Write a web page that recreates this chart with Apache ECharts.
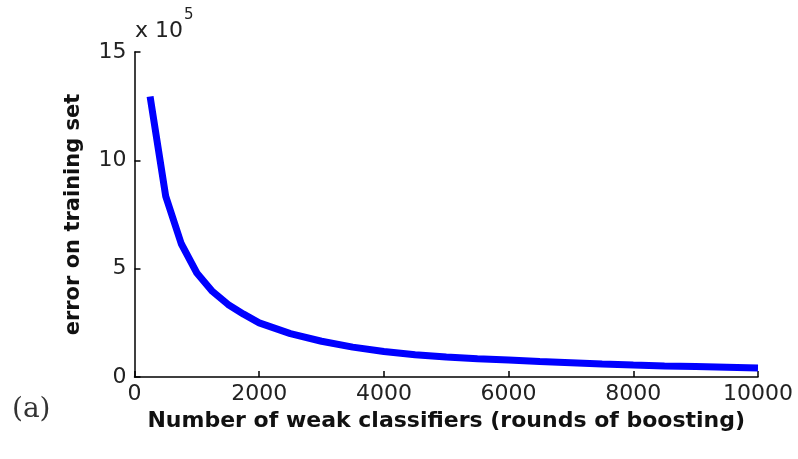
<!DOCTYPE html>
<html>
<head>
<meta charset="utf-8">
<script src="https://cdn.jsdelivr.net/npm/echarts@6/dist/echarts.min.js"></script>
<style>
  html, body { margin: 0; padding: 0; background: #fff; }
  #main { width: 798px; height: 459px; }
</style>
</head>
<body>
<div id="main"></div>
<script>
// number of boosting rounds
const rounds = [250, 500, 750, 1000, 1250, 1500, 1750, 2000, 2500, 3000, 3500, 4000,
  4500, 5000, 5500, 6000, 6500, 7000, 7500, 8000, 8500, 9000, 9500, 10000];
// training error, in units of 10^5
const trainError = [12.95, 8.35, 6.15, 4.8, 3.95, 3.35, 2.9, 2.5, 2.0, 1.65, 1.38, 1.18,
  1.03, 0.92, 0.84, 0.78, 0.71, 0.66, 0.6, 0.55, 0.51, 0.48, 0.45, 0.42];
const scale = 1e5;

const font = 'DejaVu Sans, Liberation Sans, Arial, sans-serif';

const chart = echarts.init(document.getElementById('main'));

chart.setOption({
  animation: false,
  backgroundColor: '#fff',
  grid: {left: 134.5, right: 40, top: 52, bottom: 82},
  xAxis: {
    type: 'value',
    min: 0,
    max: 10000,
    interval: 2000,
    name: 'Number of weak classifiers (rounds of boosting)',
    nameLocation: 'middle',
    nameGap: 31,
    nameTextStyle: {fontFamily: font, fontWeight: 'bold', fontSize: 22, color: '#111'},
    axisLine: {lineStyle: {color: '#000', width: 1.5}},
    axisTick: {inside: true, length: 6, lineStyle: {color: '#000', width: 1.5}},
    axisLabel: {fontFamily: font, fontSize: 22, color: '#222', margin: 6, formatter: v => String(v)},
    splitLine: {show: false}
  },
  yAxis: {
    type: 'value',
    min: 0,
    max: 15 * scale,
    interval: 5 * scale,
    name: 'error on training set',
    nameLocation: 'middle',
    nameGap: 50,
    nameTextStyle: {fontFamily: font, fontWeight: 'bold', fontSize: 21, color: '#111'},
    axisLine: {show: true, lineStyle: {color: '#000', width: 1.5}},
    axisTick: {show: true, inside: true, length: 6, lineStyle: {color: '#000', width: 1.5}},
    axisLabel: {
      fontFamily: font, fontSize: 22, color: '#222', margin: 8,
      formatter: v => String(Math.round(v / scale))
    },
    splitLine: {show: false}
  },
  graphic: [
    {
      type: 'text',
      left: 135,
      top: 8,
      style: {
        text: '{b|x 10}{s|5}',
        rich: {
          b: {fontFamily: font, fontSize: 22, fill: '#222', padding: [12, 0, 0, 0]},
          s: {fontFamily: font, fontSize: 15, fill: '#222', verticalAlign: 'top', padding: [0, 0, 14, 1]}
        }
      }
    },
    {
      type: 'text',
      left: 12,
      top: 396,
      style: {text: '(a)', fontFamily: 'DejaVu Serif, Liberation Serif, serif', fontSize: 28, fill: '#333'}
    }
  ],
  series: [{
    type: 'line',
    data: rounds.map((r, i) => [r, trainError[i] * scale]),
    showSymbol: false,
    lineStyle: {color: '#0000ff', width: 7},
    itemStyle: {color: '#0000ff'}
  }]
});
</script>
</body>
</html>
